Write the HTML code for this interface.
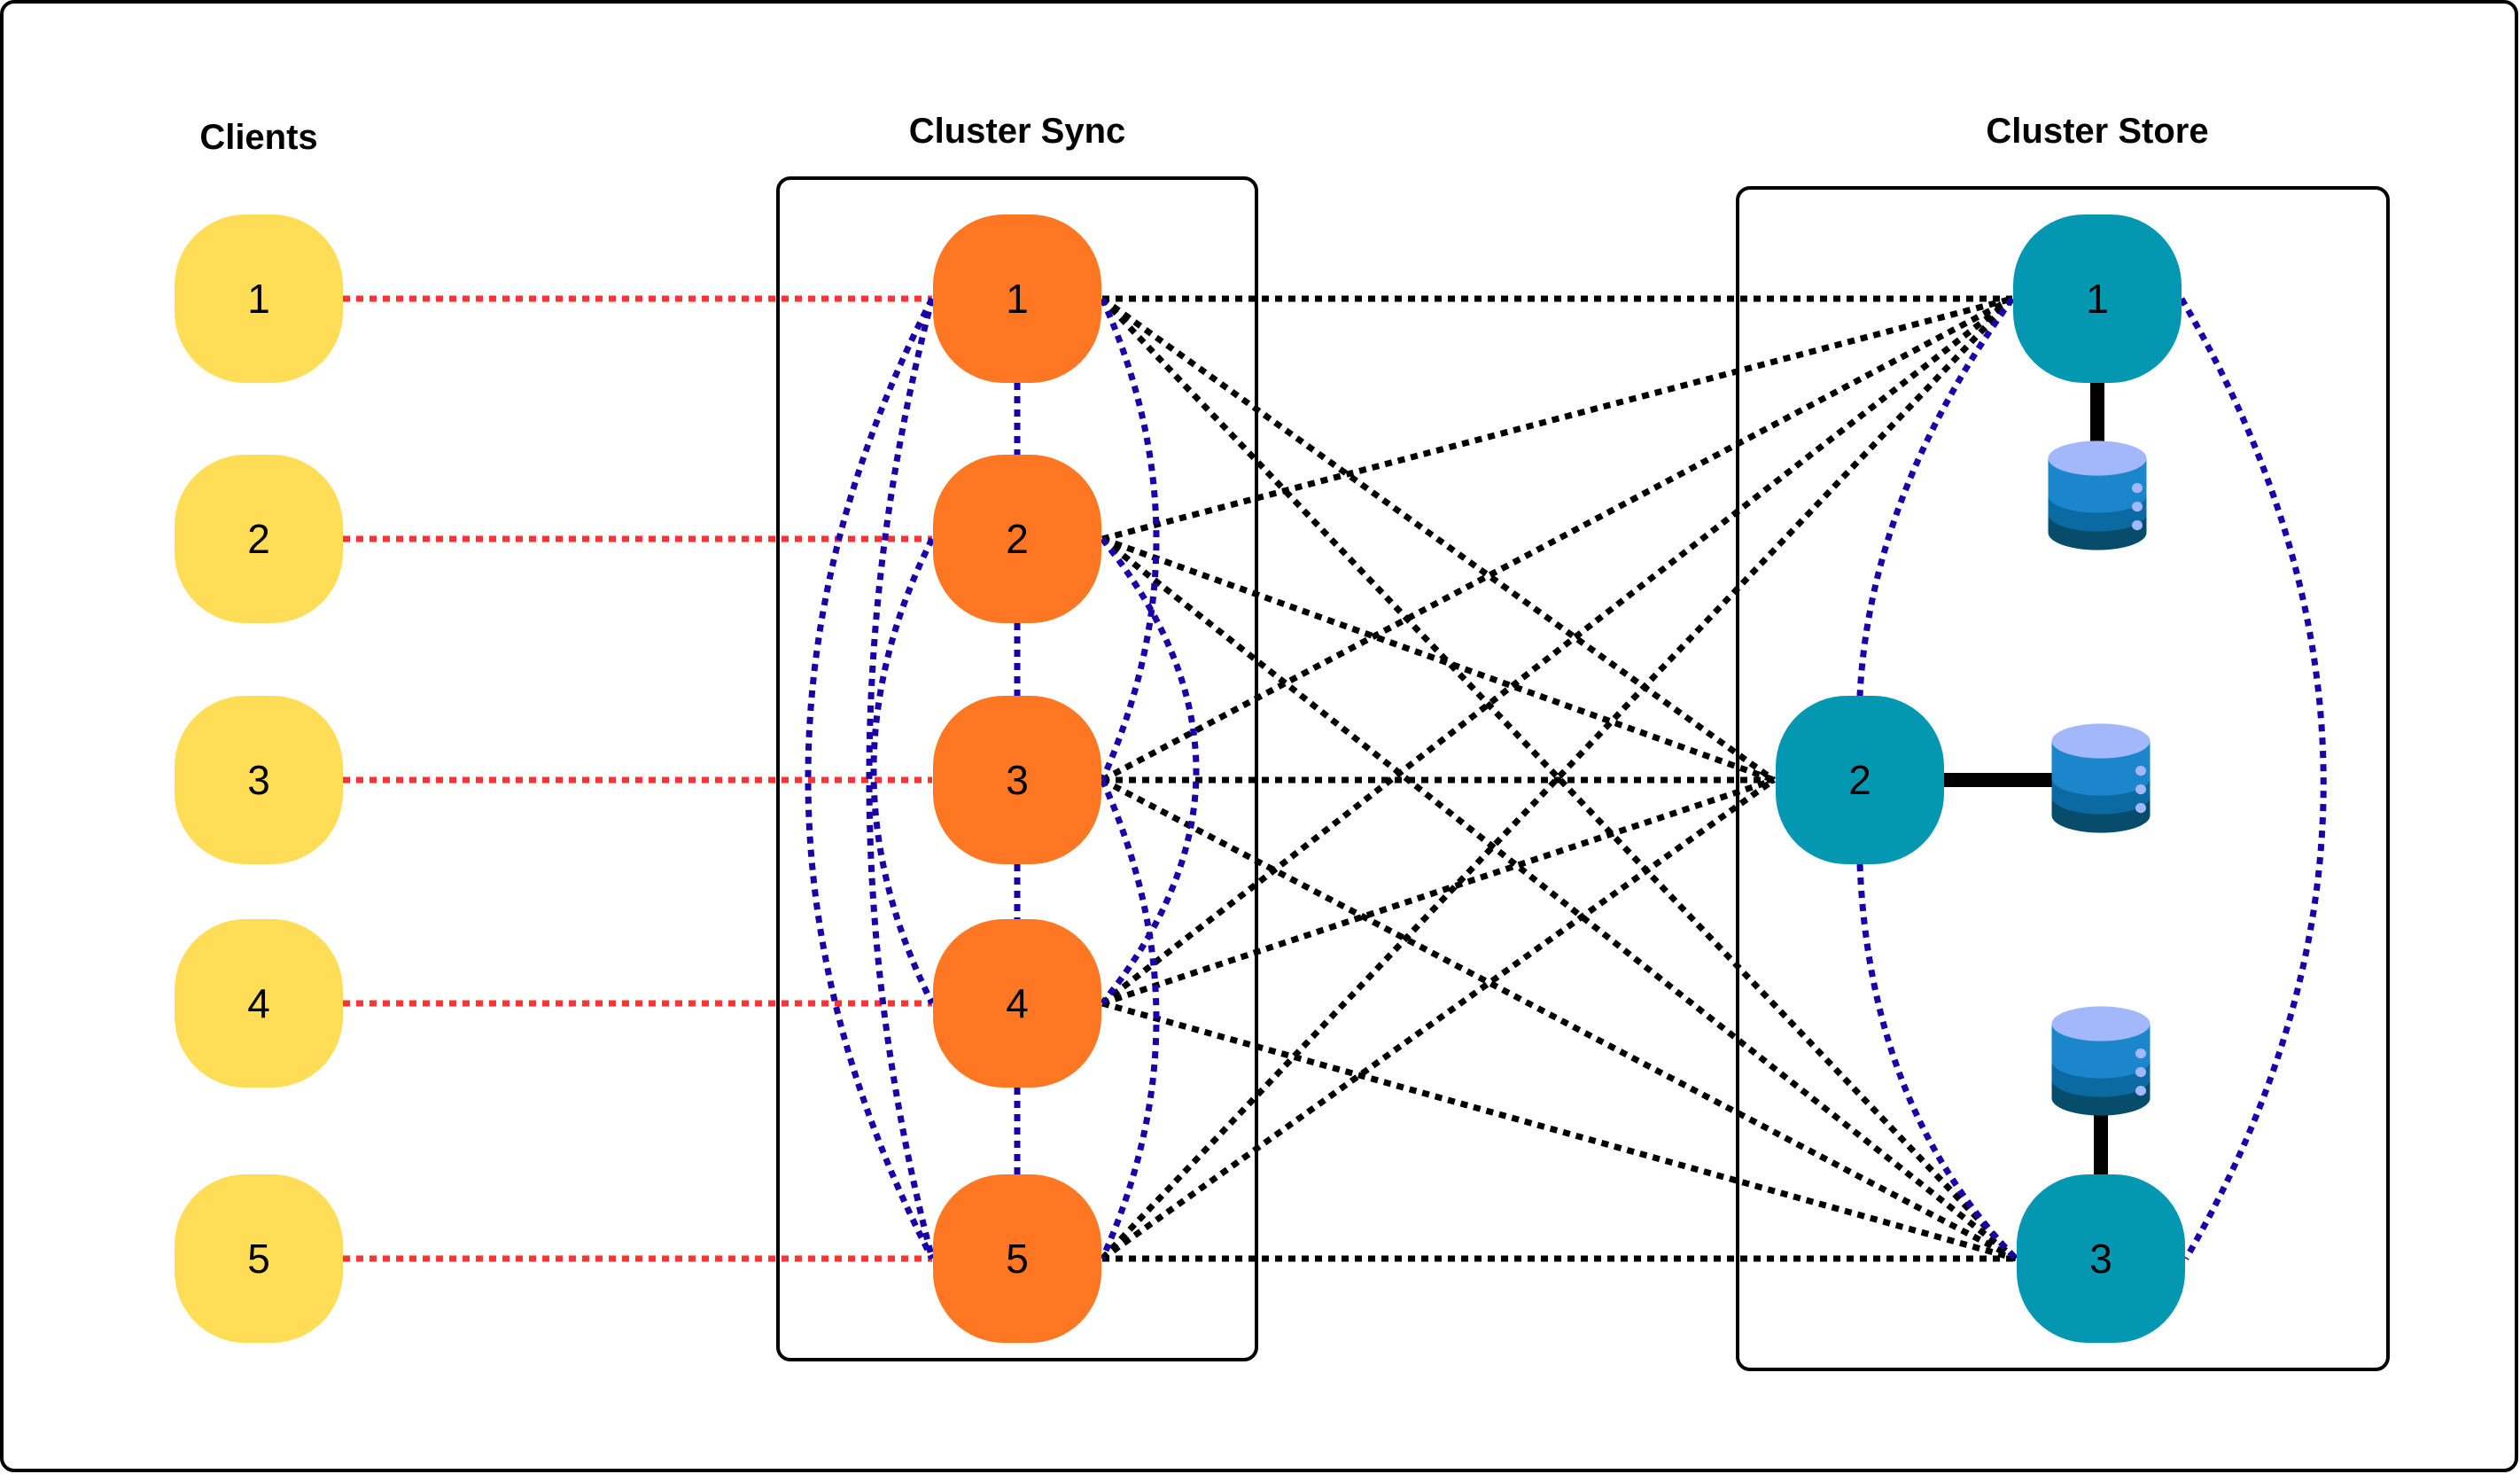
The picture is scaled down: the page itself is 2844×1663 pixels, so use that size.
<!DOCTYPE html>
<html><head><meta charset="utf-8"><style>
html,body{margin:0;padding:0;background:#fff;}
svg{display:block}
text{font-family:"Liberation Sans",sans-serif;}
</style></head><body>
<svg width="2844" height="1663" viewBox="0 0 2844 1663" xmlns="http://www.w3.org/2000/svg">
<rect x="2" y="2" width="2838" height="1657" rx="14" fill="#fff" stroke="#000" stroke-width="4"/>
<text x="292" y="168" font-size="40" font-weight="bold" text-anchor="middle">Clients</text>
<text x="1148" y="161" font-size="40" font-weight="bold" text-anchor="middle">Cluster Sync</text>
<text x="2367" y="161" font-size="40" font-weight="bold" text-anchor="middle">Cluster Store</text>
<rect x="878" y="201" width="540" height="1333" rx="14" fill="none" stroke="#000" stroke-width="4"/>
<rect x="1961" y="212" width="734" height="1333" rx="14" fill="none" stroke="#000" stroke-width="4"/>

<g stroke="#ff3333" stroke-width="7" stroke-dasharray="8 7" fill="none">
<line x1="387" y1="337" x2="1052" y2="337"/>
<line x1="387" y1="608" x2="1052" y2="608"/>
<line x1="387" y1="880" x2="1052" y2="880"/>
<line x1="387" y1="1132" x2="1052" y2="1132"/>
<line x1="387" y1="1420" x2="1052" y2="1420"/>
</g>

<g stroke="#000" stroke-width="7" stroke-dasharray="8 7" fill="none">
<line x1="1244" y1="337" x2="2271" y2="337"/>
<line x1="1244" y1="337" x2="2002" y2="880"/>
<line x1="1244" y1="337" x2="2275" y2="1420"/>
<line x1="1244" y1="608" x2="2271" y2="337"/>
<line x1="1244" y1="608" x2="2002" y2="880"/>
<line x1="1244" y1="608" x2="2275" y2="1420"/>
<line x1="1244" y1="880" x2="2271" y2="337"/>
<line x1="1244" y1="880" x2="2002" y2="880"/>
<line x1="1244" y1="880" x2="2275" y2="1420"/>
<line x1="1244" y1="1132" x2="2271" y2="337"/>
<line x1="1244" y1="1132" x2="2002" y2="880"/>
<line x1="1244" y1="1132" x2="2275" y2="1420"/>
<line x1="1244" y1="1420" x2="2271" y2="337"/>
<line x1="1244" y1="1420" x2="2002" y2="880"/>
<line x1="1244" y1="1420" x2="2275" y2="1420"/>
</g>

<g stroke="#1a00a8" stroke-width="7" stroke-dasharray="8 7" fill="none">
<line x1="1148" y1="432" x2="1148" y2="513"/>
<line x1="1148" y1="703" x2="1148" y2="785"/>
<line x1="1148" y1="975" x2="1148" y2="1037"/>
<line x1="1148" y1="1227" x2="1148" y2="1325"/>
<path d="M1052 337 Q772 878 1052 1420"/>
<path d="M1052 337 Q910 878 1052 1420"/>
<path d="M1052 608 Q920 870 1052 1132"/>
<path d="M1244 337 Q1366 608 1244 880"/>
<path d="M1244 608 Q1456 870 1244 1132"/>
<path d="M1244 880 Q1366 1150 1244 1420"/>
<path d="M2271 337 Q2110 560 2099 785"/>
<path d="M2099 975 Q2110 1250 2275 1420"/>
<path d="M2462 337 Q2780 880 2467 1420"/>
</g>

<g stroke="#000" stroke-width="16">
<line x1="2367" y1="432" x2="2367" y2="510"/>
<line x1="2194" y1="880" x2="2318" y2="880"/>
<line x1="2371" y1="1250" x2="2371" y2="1325"/>
</g>

<g font-size="46" text-anchor="middle" fill="#000">
<g fill="#ffdd57">
<rect x="197" y="242" width="190" height="190" rx="80"/>
<rect x="197" y="513" width="190" height="190" rx="80"/>
<rect x="197" y="785" width="190" height="190" rx="80"/>
<rect x="197" y="1037" width="190" height="190" rx="80"/>
<rect x="197" y="1325" width="190" height="190" rx="80"/>
</g>
<g fill="#ff7722">
<rect x="1053" y="242" width="190" height="190" rx="80"/>
<rect x="1053" y="513" width="190" height="190" rx="80"/>
<rect x="1053" y="785" width="190" height="190" rx="80"/>
<rect x="1053" y="1037" width="190" height="190" rx="80"/>
<rect x="1053" y="1325" width="190" height="190" rx="80"/>
</g>
<g fill="#0397b2">
<rect x="2272" y="242" width="190" height="190" rx="80"/>
<rect x="2004" y="785" width="190" height="190" rx="80"/>
<rect x="2276" y="1325" width="190" height="190" rx="80"/>
</g>
<text x="292" y="353">1</text><text x="292" y="624">2</text><text x="292" y="896">3</text><text x="292" y="1148">4</text><text x="292" y="1436">5</text>
<text x="1148" y="353">1</text><text x="1148" y="624">2</text><text x="1148" y="896">3</text><text x="1148" y="1148">4</text><text x="1148" y="1436">5</text>
<text x="2367" y="353">1</text><text x="2099" y="896">2</text><text x="2371" y="1436">3</text>
</g>

<defs>
<g id="db">
<path d="M-37 -30 v60 a37 14 0 0 0 74 0 v-60 z" fill="#084c6c"/>
<path d="M-37 -30 v45 a37 14 0 0 0 74 0 v-45 z" fill="#0c6aa2"/>
<path d="M-37 -30 v30 a37 14 0 0 0 74 0 v-30 z" fill="#1c86cc"/>
<ellipse cx="0" cy="-30" rx="37" ry="14" fill="#a3b8fa"/>
<circle cx="30" cy="-6" r="4" fill="#a3b8fa"/>
<circle cx="30" cy="9" r="4" fill="#a3b8fa"/>
<circle cx="30" cy="24" r="4" fill="#a3b8fa"/>
</g>
</defs>
<use href="#db" transform="translate(2367,559) scale(1.5,1.4)"/>
<use href="#db" transform="translate(2371,878) scale(1.5,1.4)"/>
<use href="#db" transform="translate(2371,1197) scale(1.5,1.4)"/>
</svg>
</body></html>
